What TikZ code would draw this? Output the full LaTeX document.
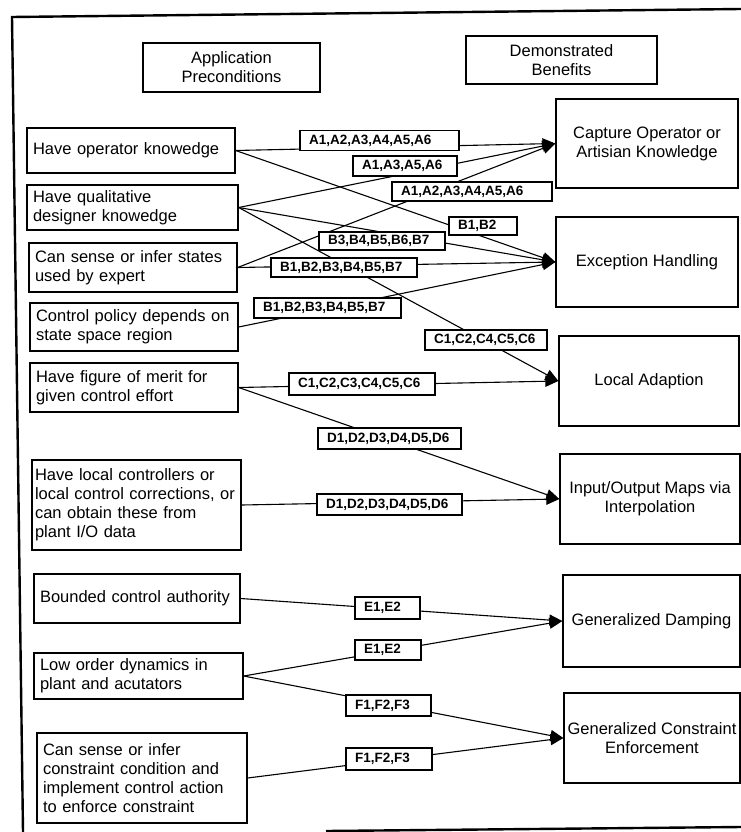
\documentclass[tikz,border=0pt]{standalone}
\usepackage{fontspec}
\setmainfont{Liberation Sans}
\usetikzlibrary{arrows.meta}
\tikzset{
  box/.style={draw, line width=1.3pt, inner xsep=6pt, inner ysep=0pt,
    font=\fontsize{16.5pt}{19pt}\selectfont},
  lbox/.style={box, align=left},
  rbox/.style={box, align=center},
  hbox/.style={box, align=center},
  lab/.style={draw, fill=white, line width=1.1pt, inner xsep=9pt, inner ysep=0pt,
    align=left, font=\fontsize{13.5pt}{15pt}\selectfont\bfseries},
  conn/.style={line width=1.1pt, -{Triangle[length=13pt,width=11pt]}},
  framestyle/.style={line width=2.4pt}
}
\begin{document}
\begin{tikzpicture}[x=1pt,y=-1pt]
\useasboundingbox (0,0) rectangle (741,832);
% frame
\draw[framestyle] (23,832) -- (12,17) -- (741,9);
\draw[framestyle] (326,831) -- (741,827);
% headers
\node[hbox, minimum width=177pt, minimum height=49pt] (hA) at (231.5,67.5) {Application\\Preconditions};
\node[hbox, minimum width=191pt, minimum height=48pt] (hB) at (561.5,60) {Demonstrated\\Benefits};
% left boxes
\node[lbox, minimum width=208pt, minimum height=45pt, text width=196pt] (L1) at (131,150.5) {Have operator knowedge};
\node[lbox, minimum width=211pt, minimum height=45pt, text width=199pt] (L2) at (132.5,207.5) {Have qualitative\\designer knowedge};
\node[lbox, minimum width=208pt, minimum height=49pt, text width=196pt] (L3) at (133,267.5) {Can sense or infer states\\used by expert};
\node[lbox, minimum width=208pt, minimum height=48pt, text width=196pt] (L4) at (134,327) {Control policy depends on\\state space region};
\node[lbox, minimum width=208pt, minimum height=49pt, text width=196pt] (L5) at (134,387.5) {Have figure of merit for\\given control effort};
\node[lbox, minimum width=209pt, minimum height=90pt, inner xsep=3pt, text width=203pt] (L6) at (136.5,505) {Have local controllers or\\local control corrections, or\\can obtain these from\\plant I/O data};
\node[lbox, minimum width=206pt, minimum height=49pt, text width=194pt] (L7) at (137,598.5) {Bounded control authority};
\node[lbox, minimum width=209pt, minimum height=46pt, text width=197pt] (L8) at (138.5,676) {Low order dynamics in\\plant and acutators};
\node[lbox, minimum width=210pt, minimum height=90pt, text width=198pt] (L9) at (142,778) {Can sense or infer\\constraint condition and\\implement control action\\to enforce constraint};
% right boxes
\node[rbox, minimum width=182pt, minimum height=89pt] (R1) at (647,143.5) {Capture Operator or\\Artisian Knowledge};
\node[rbox, minimum width=182pt, minimum height=90pt] (R2) at (647,262) {Exception Handling};
\node[rbox, minimum width=180pt, minimum height=90pt] (R3) at (649,381) {Local Adaption};
\node[rbox, minimum width=180pt, minimum height=90pt] (R4) at (650,499) {Input/Output Maps via\\Interpolation};
\node[rbox, minimum width=177pt, minimum height=92pt] (R5) at (651.5,621) {Generalized Damping};
\node[rbox, minimum width=176pt, minimum height=90pt, inner xsep=2pt] (R6) at (652,738) {Generalized Constraint\\Enforcement};
% connectors
\draw[conn] (L1.east) -- (R1.west);
\draw[conn] (L2.east) -- (R1.west);
\draw[conn] (L3.east) -- (R1.west);
\draw[conn] (L1.east) -- (R2.west);
\draw[conn] (L2.east) -- (R2.west);
\draw[conn] (L3.east) -- (R2.west);
\draw[conn] (L4.east) -- (R2.west);
\draw[conn] (L2.east) -- (R3.west);
\draw[conn] (L5.east) -- (R3.west);
\draw[conn] (L5.east) -- (R4.west);
\draw[conn] (L6.east) -- (R4.west);
\draw[conn] (L7.east) -- (R5.west);
\draw[conn] (L8.east) -- (R5.west);
\draw[conn] (L8.east) -- (R6.west);
\draw[conn] (L9.east) -- (R6.west);
% labels on connectors
\node[lab, minimum height=20pt, text width=141pt] (la1) at (379.5,140.5) {A1,A2,A3,A4,A5,A6};
\node[lab, minimum height=20pt, text width=86pt] (la2) at (405,166) {A1,A3,A5,A6};
\node[lab, minimum height=19pt, text width=142pt] (la3) at (472,191.5) {A1,A2,A3,A4,A5,A6};
\node[lab, minimum height=18pt, text width=50pt] (lb1) at (483,226) {B1,B2};
\node[lab, minimum height=18pt, text width=108pt] (lb2) at (382,241) {B3,B4,B5,B6,B7};
\node[lab, minimum height=19pt, text width=128pt] (lb3) at (344,267.5) {B1,B2,B3,B4,B5,B7};
\node[lab, minimum height=20pt, text width=129pt] (lb4) at (327.5,308) {B1,B2,B3,B4,B5,B7};
\node[lab, minimum height=20pt, text width=104pt] (lc1) at (486,340) {C1,C2,C4,C5,C6};
\node[lab, minimum height=22pt, text width=128pt] (lc2) at (362,384) {C1,C2,C3,C4,C5,C6};
\node[lab, minimum height=21pt, text width=125pt] (ld1) at (389.5,438.5) {D1,D2,D3,D4,D5,D6};
\node[lab, minimum height=21pt, text width=127pt] (ld2) at (389.5,504.5) {D1,D2,D3,D4,D5,D6};
\node[lab, minimum height=22pt, text width=47pt] (le1) at (387.5,608) {E1,E2};
\node[lab, minimum height=20pt, text width=48pt] (le2) at (388,650) {E1,E2};
\node[lab, minimum height=21pt, text width=67pt] (lf1) at (388.5,705.5) {F1,F2,F3};
\node[lab, minimum height=22pt, text width=68pt] (lf2) at (389,759) {F1,F2,F3};
\end{tikzpicture}
\end{document}
